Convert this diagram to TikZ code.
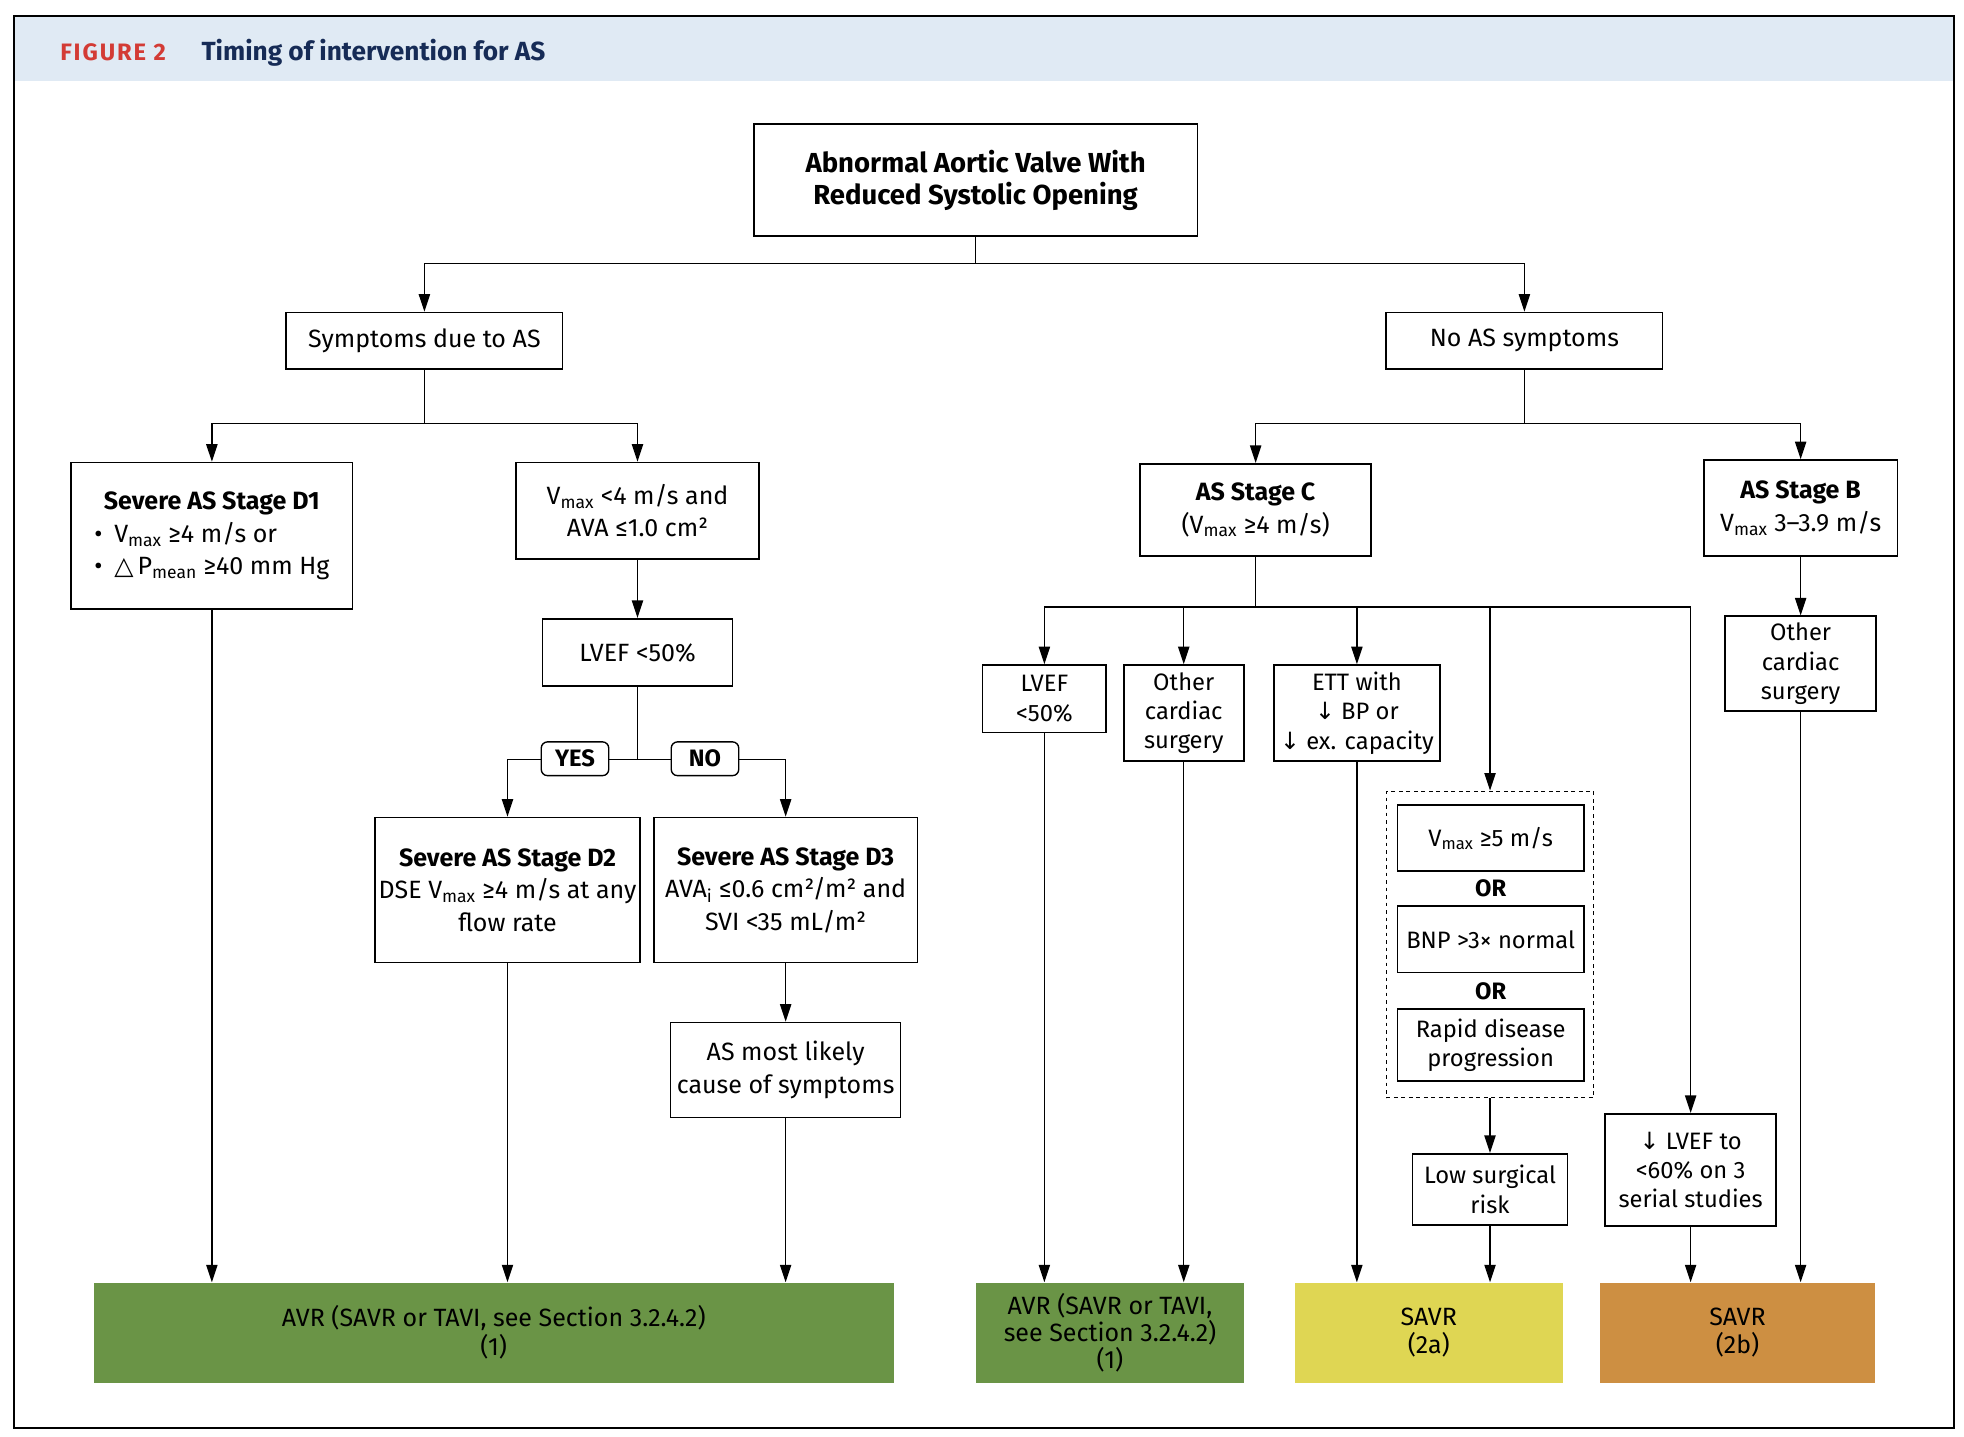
\documentclass[tikz,border=0pt]{standalone}
\usepackage{fontspec}
\setmainfont{Fira Sans}
\newfontfamily\symfont{DejaVu Sans}
\usetikzlibrary{arrows.meta}

\definecolor{hdrblue}{RGB}{224,234,244}
\definecolor{figred}{RGB}{211,59,53}
\definecolor{navy}{RGB}{22,43,86}
\definecolor{avrgreen}{RGB}{106,148,70}
\definecolor{savryellow}{RGB}{223,214,83}
\definecolor{savrorange}{RGB}{205,143,66}

\newcommand{\vmax}{V\textsubscript{max}}
\newcommand{\dn}{{\symfont ↓}}

\begin{document}
\begin{tikzpicture}[x=1pt, y=-1pt,
		box/.style={draw, line width=1.3pt, align=center, inner sep=0pt, font=\fontsize{20}{26}\selectfont},
		tight/.style={box, font=\fontsize{19}{23.5}\selectfont},
		sz/.style 2 args={minimum width=#1pt, minimum height=#2pt},
		outcome/.style={align=center, inner sep=0pt, font=\fontsize{20}{23}\selectfont},
		link/.style={line width=1.1pt},
		arr/.style={link, -{Triangle[length=14pt,width=9pt]}},
		yesno/.style={draw, fill=white, rounded corners=5pt, line width=1.1pt, inner sep=0pt, sz={54}{27}, font=\fontsize{19}{20}\selectfont\bfseries}]
			%%%%% START %%%%%
			
			\useasboundingbox (0,0) rectangle (1571.2,1148.8);
			\fill[hdrblue] (11,13) rectangle (1563,65);
			\draw[line width=1.6pt] (11,13) rectangle (1563,1142);
			
			\node[anchor=base west, inner sep=0pt, text=figred, font=\fontsize{19}{19}\selectfont\bfseries\addfontfeature{LetterSpace=8}] (fignum) at (48,48) {FIGURE 2};
			\node[anchor=base west, inner sep=0pt, text=navy, font=\fontsize{21}{21}\selectfont\bfseries] (figtitle) at (161,48) {Timing of intervention for AS};
			
			\node[box, sz={355}{90}, font=\fontsize{22}{25.5}\selectfont\bfseries] (valve) at (780.5,144) {Abnormal Aortic Valve With\\Reduced Systolic Opening};
			
			\node[box, sz={221}{45}] (sympt) at (339.5,272.5) {Symptoms due to AS};
			\node[box, sz={221}{45}] (nosympt) at (1219.5,272.5) {No AS symptoms};
			
			% symptomatic side
			\node[box, sz={225}{117}] (stageD1) at (169.5,428.5) {\begin{tabular}{@{}l@{}}\multicolumn{1}{@{}c@{}}{\bfseries Severe AS Stage D1}\\\makebox[16pt][l]{•}\vmax{} ≥4 m/s or\\\makebox[16pt][l]{•}{\symfont △}\,P\textsubscript{mean} ≥40 mm Hg\end{tabular}};
			\node[box, sz={194}{77}] (lowflow) at (510,408.5) {\vmax{} <4 m/s and\\AVA ≤1.0 cm²};
			\node[box, sz={152}{54}] (lvefD) at (510,522) {LVEF <50\%};
			\node[box, sz={212}{116}] (stageD2) at (406,712) {\textbf{Severe AS Stage D2}\\DSE \vmax{} ≥4 m/s at any\\flow rate};
			\node[box, sz={211}{116}] (stageD3) at (628.5,712) {\textbf{Severe AS Stage D3}\\AVA\textsubscript{i} ≤0.6 cm²/m² and\\SVI <35 mL/m²};
			\node[box, sz={184}{76}] (likely) at (628.5,856) {AS most likely\\cause of symptoms};
			
			% asymptomatic side
			\node[box, sz={185}{74}] (stageC) at (1004.5,408) {\textbf{AS Stage C}\\(\vmax{} ≥4 m/s)};
			\node[box, sz={155}{77}] (stageB) at (1440.5,406.5) {\textbf{AS Stage B}\\\vmax{} 3–3.9 m/s};
			\node[tight, sz={121}{76}] (surgB) at (1440.5,531) {Other\\cardiac\\surgery};
			\node[tight, sz={99}{54}] (lvefC) at (835.5,559) {LVEF\\<50\%};
			\node[tight, sz={96}{77}] (surgC) at (947,570.5) {Other\\cardiac\\surgery};
			\node[tight, sz={133}{77}] (ett) at (1085.5,570.5) {ETT with\\\dn{} BP or\\\dn{} ex. capacity};
			
			\node[draw, dashed, line width=1.1pt, sz={166}{245}] (orgroup) at (1192,755.5) {};
			\node[tight, sz={149}{53}] (vfive) at (1192.5,670.5) {\vmax{} ≥5 m/s};
			\node[font=\fontsize{19}{20}\selectfont\bfseries] (or1) at (1192.5,711) {OR};
			\node[tight, sz={149}{53}] (bnp) at (1192.5,751.5) {BNP >3× normal};
			\node[font=\fontsize{19}{20}\selectfont\bfseries] (or2) at (1192.5,793) {OR};
			\node[tight, sz={149}{58}] (rapid) at (1192.5,836) {Rapid disease\\progression};
			\node[tight, sz={124}{57}] (lowrisk) at (1192,951.5) {Low surgical\\risk};
			\node[tight, sz={137}{90}] (lvefdrop) at (1352.5,936) {\dn{} LVEF to\\<60\% on 3\\serial studies};
			
			% outcomes
			\node[outcome, fill=avrgreen, sz={640}{80}] (avrA) at (395,1066) {AVR (SAVR or TAVI, see Section 3.2.4.2)\\(1)};
			\node[outcome, fill=avrgreen, sz={214}{80}, font=\fontsize{20}{21.5}\selectfont] (avrB) at (888,1066) {AVR (SAVR or TAVI,\\see Section 3.2.4.2)\\(1)};
			\node[outcome, fill=savryellow, sz={214}{80}] (savrA) at (1143,1066) {SAVR\\(2a)};
			\node[outcome, fill=savrorange, sz={220}{80}] (savrB) at (1390,1066) {SAVR\\(2b)};
			
			% connectors
			\draw[link] (valve.south) -- ++(0,21) coordinate (splitTop);
			\draw[arr] (splitTop) -| (sympt.north);
			\draw[arr] (splitTop) -| (nosympt.north);
			
			\draw[link] (sympt.south) -- ++(0,43) coordinate (splitSym);
			\draw[arr] (splitSym) -| (stageD1.north);
			\draw[arr] (splitSym) -| (lowflow.north);
			\draw[arr] (lowflow) -- (lvefD);
			\draw[link] (lvefD.south) -- ++(0,58) coordinate (splitLvef);
			\draw[arr] (splitLvef) -| (stageD2.north);
			\draw[arr] (splitLvef) -| (stageD3.north);
			\node[yesno] (yes) at (460,607) {YES};
			\node[yesno] (no) at (564,607) {NO};
			\draw[arr] (stageD3) -- (likely);
			
			\draw[arr] (stageD1.south) -- (stageD1.south |- avrA.north);
			\draw[arr] (stageD2.south) -- (stageD2.south |- avrA.north);
			\draw[arr] (likely.south) -- (likely.south |- avrA.north);
			
			\draw[link] (nosympt.south) -- ++(0,43) coordinate (splitAsym);
			\draw[arr] (splitAsym) -| (stageC.north);
			\draw[arr] (splitAsym) -| (stageB.north);
			\draw[arr] (stageB) -- (surgB);
			\draw[arr] (surgB.south) -- (surgB.south |- savrB.north);
			
			\draw[link] (stageC.south) -- ++(0,40) coordinate (splitC);
			\draw[arr] (splitC) -| (lvefC.north);
			\draw[arr] (splitC) -| (surgC.north);
			\draw[arr] (splitC) -| (ett.north);
			\draw[arr] (splitC) -| (orgroup.north);
			\draw[arr] (splitC) -| (lvefdrop.north);
			
			\draw[arr] (lvefC.south) -- (lvefC.south |- avrB.north);
			\draw[arr] (surgC.south) -- (surgC.south |- avrB.north);
			\draw[arr] (ett.south) -- (ett.south |- savrA.north);
			\draw[arr] (orgroup) -- (lowrisk);
			\draw[arr] (lowrisk.south) -- (lowrisk.south |- savrA.north);
			\draw[arr] (lvefdrop.south) -- (lvefdrop.south |- savrB.north);
			
			%%%%% END %%%%%
		\end{tikzpicture}
\end{document}
